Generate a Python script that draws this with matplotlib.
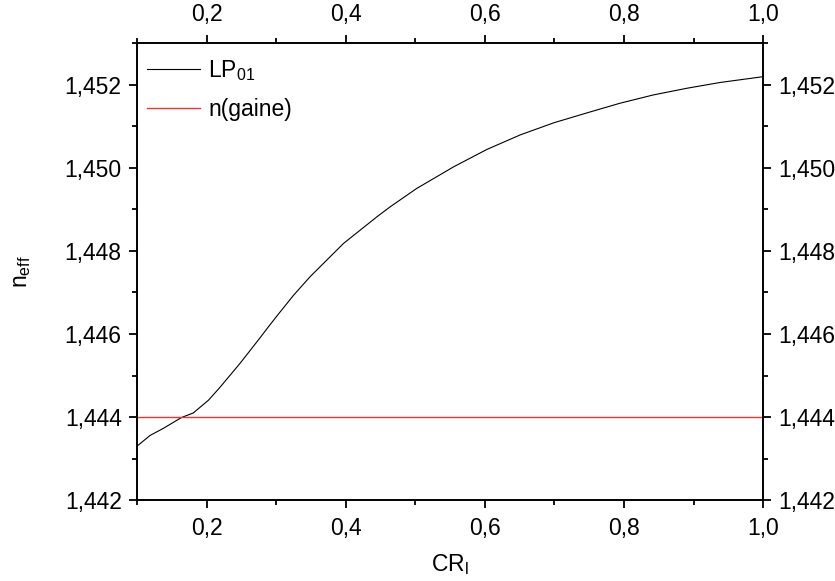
import numpy as np
import matplotlib
matplotlib.use("Agg")
import matplotlib.pyplot as plt
from matplotlib.ticker import MultipleLocator, FuncFormatter

plt.rcParams['font.family'] = ['Liberation Sans', 'DejaVu Sans']
plt.rcParams['mathtext.fontset'] = 'custom'
plt.rcParams['mathtext.rm'] = 'Liberation Sans'
plt.rcParams['mathtext.it'] = 'Liberation Sans'

# LP01 effective index vs CR_l
cr = [0.100, 0.119, 0.138, 0.164, 0.181, 0.203, 0.219, 0.248, 0.263, 0.277,
      0.287, 0.301, 0.325, 0.349, 0.373, 0.397, 0.421, 0.445, 0.464, 0.502,
      0.555, 0.603, 0.651, 0.699, 0.747, 0.794, 0.842, 0.890, 0.938, 1.000]
n_lp01 = [1.44330, 1.44356, 1.44373, 1.44399, 1.44410, 1.44441, 1.44471,
          1.44529, 1.44561, 1.44591, 1.44613, 1.44643, 1.44693, 1.44738,
          1.44778, 1.44818, 1.44850, 1.44882, 1.44906, 1.44950, 1.45002,
          1.45044, 1.45079, 1.45108, 1.45132, 1.45155, 1.45175, 1.45191,
          1.45205, 1.45219]
n_gaine = 1.444

fig = plt.figure(figsize=(8.35, 5.81), dpi=100)
ax = fig.add_axes([0.164, 0.139, 0.750, 0.787])

ax.plot(cr, n_lp01, color='black', lw=0.8, label=r'LP$_{\mathregular{01}}$')
ax.plot([0.1, 1.0], [n_gaine, n_gaine], color='#ee3333', lw=1.0, label='n(gaine)')

ax.set_xlim(0.1, 1.0)
ax.set_ylim(1.442, 1.453)

comma_x = FuncFormatter(lambda v, p: f"{v:.1f}".replace('.', ','))
comma_y = FuncFormatter(lambda v, p: f"{v:.3f}".replace('.', ','))
ax.xaxis.set_major_locator(MultipleLocator(0.2))
ax.xaxis.set_minor_locator(MultipleLocator(0.1))
ax.yaxis.set_major_locator(MultipleLocator(0.002))
ax.yaxis.set_minor_locator(MultipleLocator(0.001))
ax.xaxis.set_major_formatter(comma_x)
ax.yaxis.set_major_formatter(comma_y)

# left/bottom ticks point out, top/right ticks point in
ax.tick_params(which='both', direction='out', width=1.3, labelsize=16.5)
ax.tick_params(which='major', length=6)
ax.tick_params(which='minor', length=3.8)
ax.tick_params(which='both', top=True, right=True, labeltop=True, labelright=True)
for t in ax.xaxis.get_major_ticks() + ax.xaxis.get_minor_ticks():
    t.tick2line.set_marker(3)  # top axis ticks inward
for t in ax.yaxis.get_major_ticks() + ax.yaxis.get_minor_ticks():
    t.tick2line.set_marker(1)  # right axis ticks inward
ax.tick_params(axis='x', which='both', pad=6)
ax.tick_params(axis='y', which='both', pad=5)
for s in ax.spines.values():
    s.set_linewidth(1.4)

ax.set_xlabel(r'CR$_{\mathregular{l}}$', fontsize=16.5, labelpad=9)
ax.set_ylabel(r'n$_{\mathregular{eff}}$', fontsize=16.5, labelpad=23)

ax.legend(loc='upper left', bbox_to_anchor=(0.0, 0.99), frameon=False,
          fontsize=16.5, handlelength=2.3, handletextpad=0.35,
          borderaxespad=0.05, labelspacing=0.65)

fig.savefig('out.png', dpi=100)
